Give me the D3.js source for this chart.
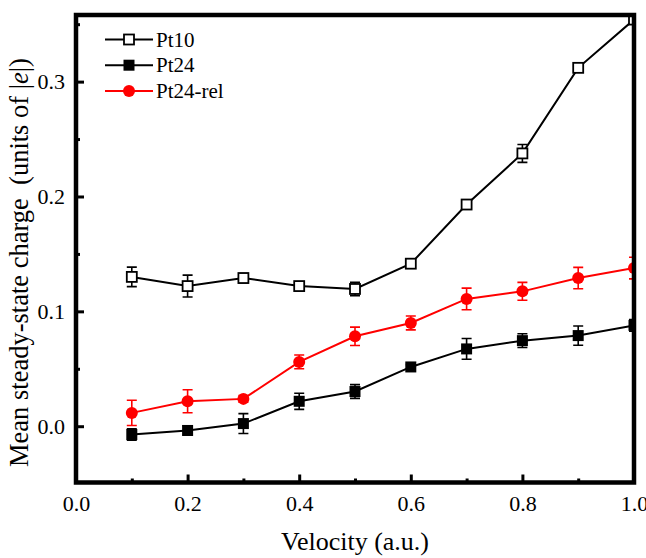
<!DOCTYPE html>
<html>
<head>
<meta charset="utf-8">
<script src="https://cdn.jsdelivr.net/npm/d3@7"></script>
<style>
  body { margin: 0; background: #fff; }
  svg { display: block; }
</style>
</head>
<body>
<svg class="chart" width="646" height="558"></svg>
<script>
// values
const velocity = [0.1, 0.2, 0.3, 0.4, 0.5, 0.6, 0.7, 0.8, 0.9, 1.0];
const pt10 = [0.130, 0.122, 0.129, 0.122, 0.1195, 0.1415, 0.193, 0.2375, 0.312, 0.354];
const pt10Err = [0.0085, 0.0095, 0.004, 0.003, 0.0058, 0.003, 0.003, 0.0078, 0.003, 0.003];
const pt24 = [-0.0072, -0.0037, 0.0023, 0.0217, 0.0302, 0.0516, 0.0673, 0.0745, 0.0789, 0.0878];
const pt24Err = [0.005, 0.004, 0.0087, 0.007, 0.006, 0.002, 0.009, 0.006, 0.0084, 0.005];
const pt24Rel = [0.0116, 0.0217, 0.0238, 0.056, 0.0783, 0.0899, 0.1108, 0.1174, 0.129, 0.1377];
const pt24RelErr = [0.011, 0.010, 0.003, 0.006, 0.008, 0.006, 0.0094, 0.0078, 0.0093, 0.0094];

const xMajor = [0, 0.2, 0.4, 0.6, 0.8, 1.0];
const xMinor = [0.1, 0.3, 0.5, 0.7, 0.9];
const yMajor = [0, 0.1, 0.2, 0.3];
const yMinor = [0.05, 0.15, 0.25, 0.35];

const series = [
  { name: "Pt10", values: pt10, err: pt10Err, color: "#000", shape: "open" },
  { name: "Pt24", values: pt24, err: pt24Err, color: "#000", shape: "square" },
  { name: "Pt24-rel", values: pt24Rel, err: pt24RelErr, color: "#ff0000", shape: "circle" },
];

const serif = "'Liberation Serif', 'Times New Roman', serif";
const plotL = 76, plotR = 634, plotT = 15, plotB = 482.5;
const $svg = d3.select(".chart");

const x = d3.scaleLinear().domain([0, 1]).range([plotL, plotR]);
const y = d3.scaleLinear().domain([-0.049, 0.358]).range([plotB, plotT]);

$svg.append("defs").append("clipPath").attr("id", "plot-clip")
  .append("rect")
  .attr("x", plotL).attr("y", plotT)
  .attr("width", plotR - plotL).attr("height", plotB - plotT);

// axes (ticks inward)
const fmt = d3.format(".1f");
function styleAxis(g) {
  g.attr("font-family", null).attr("font-size", null);
  g.select(".domain").remove();
  g.selectAll(".tick line").attr("stroke", "#000").attr("stroke-width", 3);
  g.selectAll(".tick text")
    .attr("fill", "#000")
    .style("font-family", serif)
    .style("font-size", "22px");
}

$svg.append("g")
  .attr("transform", `translate(0, ${plotB})`)
  .call(d3.axisBottom(x).tickValues(xMinor).tickSize(-4).tickFormat(""))
  .call(styleAxis);
$svg.append("g")
  .attr("transform", `translate(0, ${plotB})`)
  .call(d3.axisBottom(x).tickValues(xMajor).tickSize(-8).tickFormat(fmt))
  .call(styleAxis)
  .call((g) => g.selectAll(".tick text").attr("y", 28).attr("dy", 0));

$svg.append("g")
  .attr("transform", `translate(${plotL}, 0)`)
  .call(d3.axisLeft(y).tickValues(yMinor).tickSize(-4).tickFormat(""))
  .call(styleAxis);
$svg.append("g")
  .attr("transform", `translate(${plotL}, 0)`)
  .call(d3.axisLeft(y).tickValues(yMajor).tickSize(-8).tickPadding(11).tickFormat(fmt))
  .call(styleAxis);

// series
const line = d3.line().x((d) => x(d[0])).y((d) => y(d[1]));
const $plot = $svg.append("g").attr("clip-path", "url(#plot-clip)");

function drawMarker(g, shape, color) {
  if (shape === "circle") {
    g.append("circle").attr("r", 6).attr("fill", color);
  } else if (shape === "square") {
    g.append("rect").attr("x", -5.5).attr("y", -5.5).attr("width", 11).attr("height", 11)
      .attr("fill", color);
  } else {
    g.append("rect").attr("x", -5).attr("y", -5).attr("width", 10).attr("height", 10)
      .attr("fill", "#fff").attr("stroke", color).attr("stroke-width", 1.8);
  }
}

series.forEach((s) => {
  const pts = velocity.map((v, i) => [v, s.values[i], s.err[i]]);
  const $g = $plot.append("g");

  $g.append("path")
    .datum(pts)
    .attr("d", line)
    .attr("fill", "none")
    .attr("stroke", s.color)
    .attr("stroke-width", 2);

  const $err = $g.selectAll(".err").data(pts).enter().append("g").attr("class", "err")
    .attr("stroke", s.color).attr("stroke-width", 1.6);
  $err.append("line")
    .attr("x1", (d) => x(d[0])).attr("x2", (d) => x(d[0]))
    .attr("y1", (d) => y(d[1] - d[2])).attr("y2", (d) => y(d[1] + d[2]));
  $err.append("line")
    .attr("x1", (d) => x(d[0]) - 5).attr("x2", (d) => x(d[0]) + 5)
    .attr("y1", (d) => y(d[1] + d[2])).attr("y2", (d) => y(d[1] + d[2]));
  $err.append("line")
    .attr("x1", (d) => x(d[0]) - 5).attr("x2", (d) => x(d[0]) + 5)
    .attr("y1", (d) => y(d[1] - d[2])).attr("y2", (d) => y(d[1] - d[2]));

  $g.selectAll(".pt").data(pts).enter().append("g").attr("class", "pt")
    .attr("transform", (d) => `translate(${x(d[0])}, ${y(d[1])})`)
    .each(function () { drawMarker(d3.select(this), s.shape, s.color); });
});

// frame
$svg.append("rect")
  .attr("x", plotL).attr("y", plotT)
  .attr("width", plotR - plotL).attr("height", plotB - plotT)
  .attr("fill", "none").attr("stroke", "#000").attr("stroke-width", 4.5);

// legend
const $legend = $svg.append("g");
series.forEach((s, i) => {
  const ly = 39.5 + i * 25.7;
  const $row = $legend.append("g").attr("transform", `translate(129, ${ly})`);
  $row.append("line").attr("x1", -24).attr("x2", 24)
    .attr("stroke", s.color).attr("stroke-width", 2);
  drawMarker($row, s.shape, s.color);
  $row.append("text").attr("x", 27).attr("y", 7)
    .style("font-family", serif).style("font-size", "21px")
    .text(s.name);
});

// axis titles
$svg.append("text")
  .attr("x", (plotL + plotR) / 2).attr("y", 550)
  .attr("text-anchor", "middle")
  .style("font-family", serif)
  .style("font-size", "26px")
  .text("Velocity (a.u.)");

const $yt = $svg.append("text")
  .attr("transform", "translate(28, 467) rotate(-90)")
  .attr("text-anchor", "start")
  .style("font-family", serif)
  .style("font-size", "26.5px")
  .style("white-space", "pre");
$yt.append("tspan").text("Mean steady-state charge  (units of |");
$yt.append("tspan").style("font-style", "italic").text("e");
$yt.append("tspan").text("|)");
</script>
</body>
</html>
